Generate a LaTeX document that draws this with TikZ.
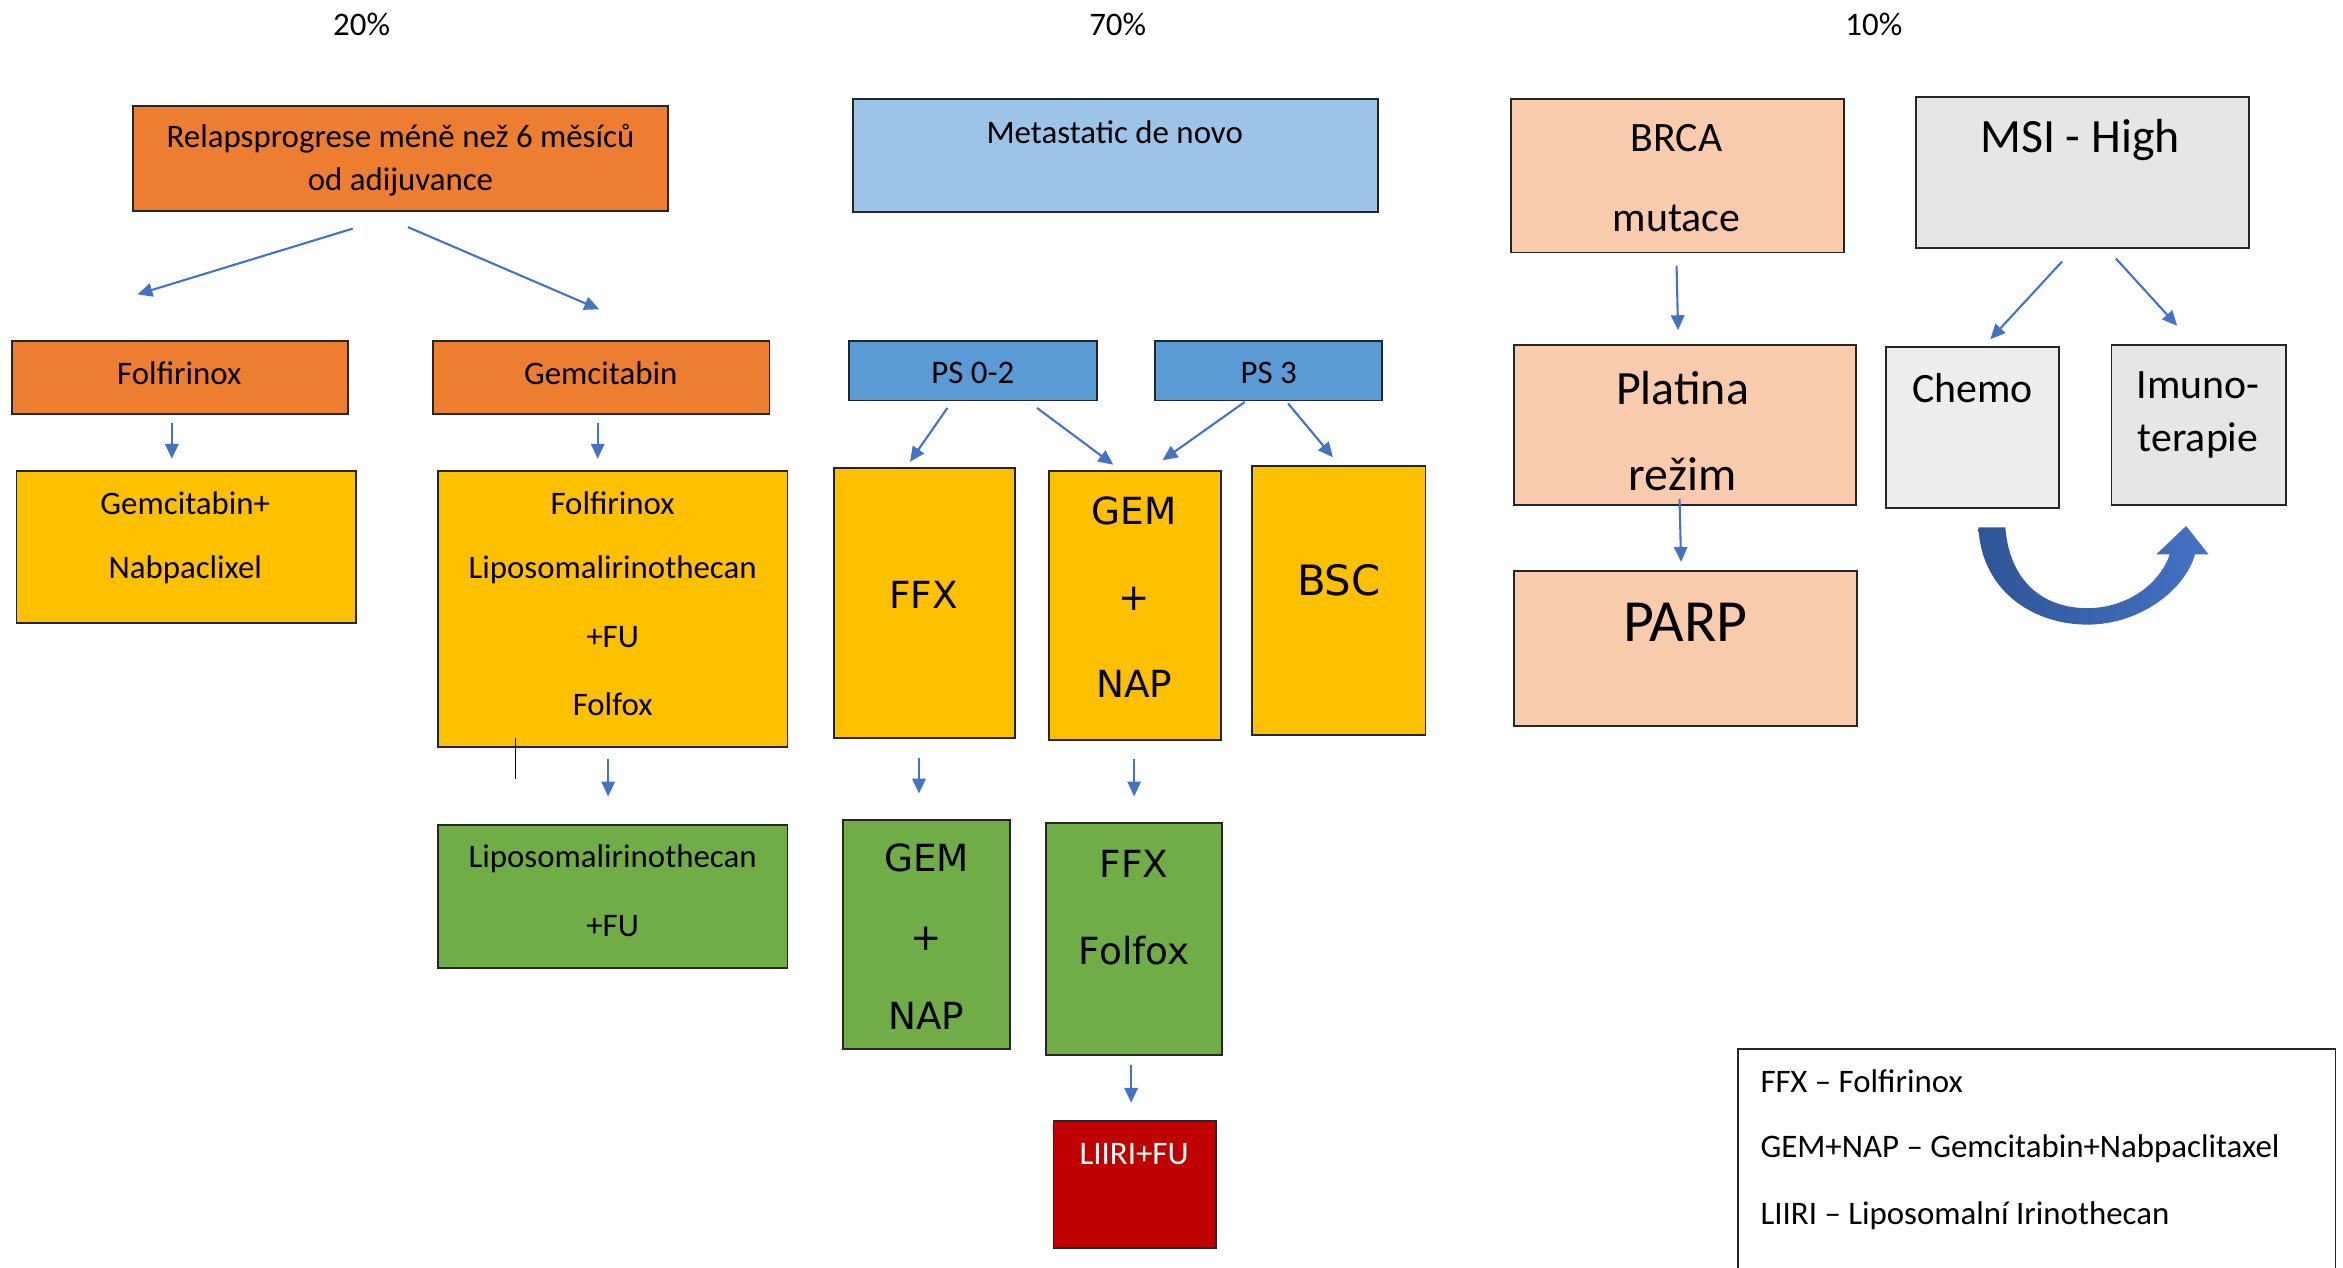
\documentclass[tikz,border=0pt]{standalone}
\usepackage{fontspec}
\setmainfont{Carlito}
\newfontfamily\widefont{DejaVu Sans}
\usetikzlibrary{arrows.meta,fit}
\definecolor{orangeA}{HTML}{ED7D31}
\definecolor{goldA}{HTML}{FFC000}
\definecolor{greenA}{HTML}{70AD47}
\definecolor{lblueA}{HTML}{9DC3E6}
\definecolor{blueA}{HTML}{5B9BD5}
\definecolor{redA}{HTML}{C00000}
\definecolor{peachA}{HTML}{F8CBAD}
\definecolor{grayA}{HTML}{E7E6E6}
\definecolor{grayB}{HTML}{EDEDED}
\definecolor{arrA}{HTML}{4472C4}
\definecolor{darkA}{HTML}{2F5597}
\begin{document}
\begin{tikzpicture}[x=1pt,y=-1pt,
  box/.style={draw=black!85, line width=1.2pt, inner sep=0pt},
  arr/.style={draw=arrA, line width=1.4pt, -{Triangle[length=10pt,width=9pt]}},
  t/.style={font=\fontsize{22}{26}\selectfont, inner sep=0pt, yshift=-1.5pt},
  tb/.style={font=\fontsize{28}{32}\selectfont, inner sep=0pt, yshift=-1.5pt},
  tc/.style={font=\fontsize{32}{36}\selectfont, inner sep=0pt, yshift=-1.5pt},
  tw/.style={font=\widefont\fontsize{25}{30}\selectfont, inner sep=0pt},
]
\fill[white] (0,0) rectangle (1568,848);
\useasboundingbox (0,0) rectangle (1568,848);

% percentages
\node[t] (p20) at (242,15) {20\%};
\node[t] (p70) at (748,15) {70\%};
\node[t] (p10) at (1254,15) {10\%};

% ---------- left column ----------
\node[box, fill=orangeA, fit={(89,71)(447,141)}] (relaps) {};
\node[t] (relapsA) at (268,91) {Relapsprogrese méně než 6 měsíců};
\node[t] (relapsB) at (268,120) {od adijuvance};

\node[box, fill=orangeA, fit={(8,228)(233,277)}] (folf) {};
\node[t] (folfT) at (120,248) {Folfirinox};
\node[box, fill=orangeA, fit={(290,228)(515,277)}] (gemc) {};
\node[t] (gemcT) at (402,248) {Gemcitabin};

\node[box, fill=goldA, fit={(11,315)(238,417)}] (gemnab) {};
\node[t] (gemnabA) at (124,335) {Gemcitabin+};
\node[t] (gemnabB) at (124,380) {Nabpaclixel};

\node[box, fill=goldA, fit={(293,315)(527,500)}] (folmulti) {};
\node[t] (fmA) at (410,335) {Folfirinox};
\node[t] (fmB) at (410,380) {Liposomalirinothecan};
\node[t] (fmC) at (410,425) {+FU};
\node[t] (fmD) at (410,470) {Folfox};

\node[box, fill=greenA, fit={(293,552)(527,648)}] (lipo) {};
\node[t] (lipoA) at (410,573) {Liposomalirinothecan};
\node[t] (lipoB) at (410,618) {+FU};

% ---------- middle column ----------
\node[box, fill=lblueA, fit={(571,66)(922,142)}] (meta) {};
\node[t] (metaT) at (746,87) {Metastatic de novo};
\node[box, fill=blueA, fit={(568,228)(734,268)}] (ps02) {};
\node[t] (ps02T) at (651,248) {PS 0-2};
\node[box, fill=blueA, fit={(773,228)(925,268)}] (ps3) {};
\node[t] (ps3T) at (849,248) {PS 3};

\node[box, fill=goldA, fit={(558,313)(679,494)}] (ffx) {};
\node[tw] (ffxT) at (618,398) {FFX};
\node[box, fill=goldA, fit={(702,315)(817,495)}] (gemnap) {};
\node[tw] (gnA) at (759,342) {GEM};
\node[tw] (gnB) at (759,401) {+};
\node[tw] (gnC) at (759,458) {NAP};
\node[box, fill=goldA, fit={(838,312)(954,492)}] (bsc) {};
\node[tw, font=\widefont\fontsize{28}{32}\selectfont] (bscT) at (896,388) {BSC};

\node[box, fill=greenA, fit={(564,549)(676,702)}] (gemnap2) {};
\node[tw] (gn2A) at (620,574) {GEM};
\node[tw] (gn2B) at (620,628) {+};
\node[tw] (gn2C) at (620,680) {NAP};
\node[box, fill=greenA, fit={(700,551)(818,706)}] (ffx2) {};
\node[tw] (ffx2A) at (759,578) {FFX};
\node[tw] (ffx2B) at (759,636) {Folfox};

\node[box, fill=redA, fit={(705,750)(814,835)}] (liiri) {};
\node[t, text=white] (liiriT) at (759,771) {LIIRI+FU};

% ---------- right column ----------
\node[box, fill=peachA, fit={(1011,66)(1234,169)}] (brca) {};
\node[tb] (brcaA) at (1122,91) {BRCA};
\node[tb] (brcaB) at (1122,145) {mutace};
\node[box, fill=grayA, fit={(1282,65)(1505,166)}] (msi) {};
\node[tc] (msiT) at (1392,92) {MSI - High};

\node[box, fill=peachA, fit={(1013,231)(1242,338)}] (platina) {};
\node[tc] (plA) at (1126,258) {Platina};
\node[tc] (plB) at (1126,316) {režim};
\node[box, fill=peachA, fit={(1013,382)(1243,486)}] (parp) {};
\node[inner sep=0pt, font=\fontsize{40}{44}\selectfont, yshift=-1.5pt] (parpT) at (1128,415) {PARP};

\node[box, fill=grayB, fit={(1262,232)(1378,340)}] (chemo) {};
\node[tb] (chemoT) at (1320,258) {Chemo};
\node[box, fill=grayA, fit={(1413,231)(1530,338)}] (imuno) {};
\node[tb] (imA) at (1471,256) {Imuno-};
\node[tb] (imB) at (1471,293) {terapie};

% curved U-turn arrow
\shade[left color=darkA, right color=arrA]
  (1324,353) .. controls (1326,395) and (1360,418) .. (1397,418)
  .. controls (1432,418) and (1462,395) .. (1469,371)
  -- (1478,371) -- (1463,352) -- (1443,371) -- (1452,371)
  .. controls (1445,392) and (1422,407) .. (1397,407)
  .. controls (1368,407) and (1345,390) .. (1342,353) -- cycle;

% legend
\node[draw=black!85, line width=1.2pt, inner sep=0pt, fit={(1163,702)(1563,870)}] (legend) {};
\node[t, anchor=west] (lgA) at (1178,722) {FFX – Folfirinox};
\node[t, anchor=west] (lgB) at (1178,767) {GEM+NAP – Gemcitabin+Nabpaclitaxel};
\node[t, anchor=west] (lgC) at (1178,812) {LIIRI – Liposomalní Irinothecan};

% ---------- connectors ----------
\coordinate (r1) at (236,153); \coordinate (r1e) at (92,197);
\coordinate (r2) at (273,152); \coordinate (r2e) at (401,207);
\draw[arr] (r1) -- (r1e);
\draw[arr] (r2) -- (r2e);
\coordinate (f1) at (115,283); \coordinate (f1e) at (115,307);
\draw[arr] (f1) -- (f1e);
\coordinate (g1) at (400,283); \coordinate (g1e) at (400,307);
\draw[arr] (g1) -- (g1e);
\coordinate (m1) at (407,508); \coordinate (m1e) at (407,533);
\draw[arr] (m1) -- (m1e);
\coordinate (stA) at (345,494); \coordinate (stB) at (345,521);
\draw[black, line width=1pt] (stA) -- (stB);

\coordinate (p1) at (634,273); \coordinate (p1e) at (609,309);
\coordinate (p2) at (694,273); \coordinate (p2e) at (745,311);
\coordinate (p3) at (833,269); \coordinate (p3e) at (778,308);
\coordinate (p4) at (862,270); \coordinate (p4e) at (892,306);
\draw[arr] (p1) -- (p1e);
\draw[arr] (p2) -- (p2e);
\draw[arr] (p3) -- (p3e);
\draw[arr] (p4) -- (p4e);
\coordinate (x1) at (615,507); \coordinate (x1e) at (615,531);
\coordinate (x2) at (759,508); \coordinate (x2e) at (759,533);
\coordinate (x3) at (757,713); \coordinate (x3e) at (757,738);
\draw[arr] (x1) -- (x1e);
\draw[arr] (x2) -- (x2e);
\draw[arr] (x3) -- (x3e);

\coordinate (b1) at (1122,178); \coordinate (b1e) at (1123,221);
\coordinate (b2) at (1124,334); \coordinate (b2e) at (1125,376);
\draw[arr] (b1) -- (b1e);
\draw[arr] (b2) -- (b2e);
\coordinate (s1) at (1380,175); \coordinate (s1e) at (1332,227);
\coordinate (s2) at (1416,173); \coordinate (s2e) at (1457,218);
\draw[arr] (s1) -- (s1e);
\draw[arr] (s2) -- (s2e);
\end{tikzpicture}
\end{document}
